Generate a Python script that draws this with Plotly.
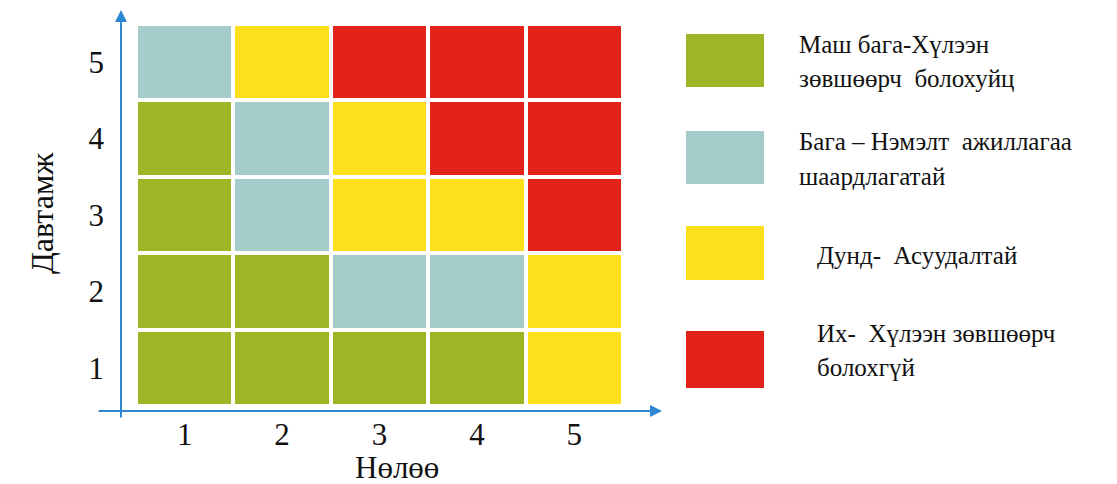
import plotly.graph_objects as go

# ---- data ----
impact = [1, 2, 3, 4, 5]          # x: Нөлөө
frequency = [1, 2, 3, 4, 5]       # y: Давтамж
tick_labels = ["1", "2", "3", "4", "5"]
# risk level per cell (rows = frequency 1..5, cols = impact 1..5)
# 0 = very low, 1 = low, 2 = medium, 3 = high
risk_level = [
    [0, 0, 0, 0, 2],
    [0, 0, 1, 1, 2],
    [0, 1, 2, 2, 3],
    [0, 1, 2, 3, 3],
    [1, 2, 3, 3, 3],
]
level_colors = ["#9cb625", "#a5cccb", "#fde01c", "#e3231a"]
level_labels = [
    ["Маш бага-Хүлээн", "зөвшөөрч  болохуйц"],
    ["Бага – Нэмэлт  ажиллагаа", "шаардлагатай"],
    ["Дунд-  Асуудалтай"],
    ["Их-  Хүлээн зөвшөөрч", "болохгүй"],
]
x_title = "Нөлөө"
y_title = "Давтамж"

# ---- layout geometry (pixels) ----
W, H = 1117, 484
L, R, T, B = 121, 662, 10, 411   # plot area
pw, ph = R - L, B - T

def px(x):
    return (x - L) / pw

def py(y):
    return (B - y) / ph

FONT = "'Liberation Serif', 'Times New Roman', serif"
AXIS_BLUE = "#2f86d2"

n = len(level_colors)
colorscale = []
for i, c in enumerate(level_colors):
    colorscale.append([i / n, c])
    colorscale.append([(i + 1) / n, c])

fig = go.Figure(
    go.Heatmap(
        x=impact,
        y=frequency,
        z=risk_level,
        colorscale=colorscale,
        zmin=-0.5,
        zmax=n - 0.5,
        showscale=False,
        xgap=4,
        ygap=4,
        hoverinfo="skip",
    )
)

# data ranges so the grid lands where it does in the reference
cw = (623 - 136) / 5
rh = (406 - 24) / 5
x0 = 0.5 - (136 - L) / cw
x1 = 0.5 + (R - 136) / cw
y0 = 0.5 - (B - 406) / rh
y1 = 0.5 + (406 - T) / rh

fig.update_xaxes(
    range=[x0, x1], tickvals=impact, ticktext=tick_labels,
    showgrid=False, zeroline=False, showline=False, ticks="",
    tickfont=dict(family=FONT, size=31, color="#111"),
    ticklabelstandoff=2,
)
fig.update_yaxes(
    range=[y0, y1], tickvals=frequency, ticktext=tick_labels,
    showgrid=False, zeroline=False, showline=False, ticks="",
    tickfont=dict(family=FONT, size=31, color="#111"),
    ticklabelstandoff=16,
)

annotations = []
# axis arrows
annotations.append(dict(
    x=1, y=0, xref="paper", yref="paper", ax=-(R - 97), ay=0,
    showarrow=True, arrowhead=2, arrowsize=1.2, arrowwidth=2,
    arrowcolor=AXIS_BLUE, text=""))
annotations.append(dict(
    x=0, y=1, xref="paper", yref="paper", ax=0, ay=(419 - T),
    showarrow=True, arrowhead=2, arrowsize=1.2, arrowwidth=2,
    arrowcolor=AXIS_BLUE, text=""))

# axis titles
annotations.append(dict(
    x=px(397), y=py(468), xref="paper", yref="paper", text=x_title,
    showarrow=False, font=dict(family=FONT, size=31, color="#111"),
    xanchor="center", yanchor="middle"))
annotations.append(dict(
    x=px(42), y=py(213), xref="paper", yref="paper", text=y_title,
    showarrow=False, textangle=-90, font=dict(family=FONT, size=32, color="#111"),
    xanchor="center", yanchor="middle"))

# legend
shapes = []
sw_y = [(34, 87), (131, 184), (226, 280), (331, 388)]
text_x = [797, 797, 815, 815]
text_y = [[44, 78], [141, 176], [255], [333, 367]]
for i, c in enumerate(level_colors):
    ya, yb = sw_y[i]
    shapes.append(dict(
        type="rect", xref="paper", yref="paper",
        x0=px(686), x1=px(764), y0=py(yb), y1=py(ya),
        fillcolor=c, line=dict(width=0)))
    for line, yy in zip(level_labels[i], text_y[i]):
        annotations.append(dict(
            x=px(text_x[i]), y=py(yy), xref="paper", yref="paper",
            text=line, showarrow=False, xanchor="left", yanchor="middle",
            font=dict(family=FONT, size=25, color="#111")))

fig.update_layout(
    width=W, height=H,
    margin=dict(l=L, r=W - R, t=T, b=H - B, pad=0),
    paper_bgcolor="white", plot_bgcolor="white",
    shapes=shapes, annotations=annotations,
    showlegend=False,
)

fig.write_html(
    "out.html",
    config={"displayModeBar": False},
    post_script="document.body.style.margin='0';document.body.style.padding='0';",
)
